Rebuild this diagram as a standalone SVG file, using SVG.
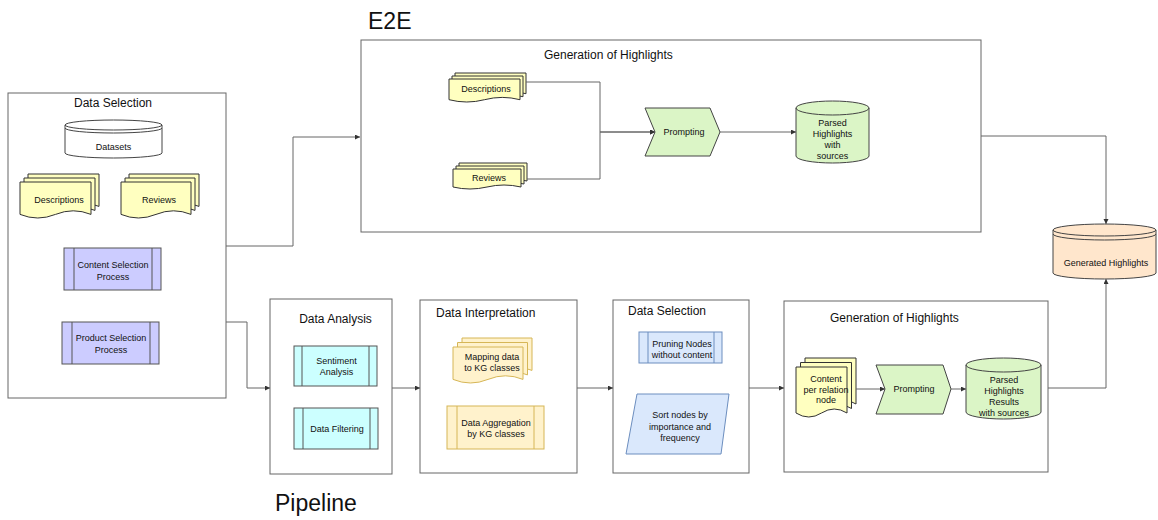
<svg xmlns="http://www.w3.org/2000/svg" width="1158" height="520" viewBox="0 0 1158 520">
  <defs>
    <marker id="arrow" markerUnits="userSpaceOnUse" markerWidth="6" markerHeight="6" refX="5" refY="2.5" orient="auto">
      <path d="M0,0 L5,2.5 L0,5 Z" fill="#333"/>
    </marker>
  </defs>
  <style>
    text { font-family: "Liberation Sans", Arial, Helvetica, sans-serif; fill: #111; }
    .big { font-size: 23px; }
    .title { font-size: 12px; }
    .lbl { font-size: 9px; text-anchor: middle; }
    .frame { fill: #fff; stroke: #666; stroke-width: 1; }
    .edge { fill: none; stroke: #666; stroke-width: 1; marker-end: url(#arrow); }
    .line { fill: none; stroke: #444; stroke-width: 1; }
    .doc { fill: #ffffc0; stroke: #333; stroke-width: 1; }
    .docO { fill: #fff2cc; stroke: #d6b656; stroke-width: 1; }
    .db { fill: #fff; stroke: #444; stroke-width: 1; }
    .green { fill: #dbf5c6; stroke: #444; stroke-width: 1; }
    .peach { fill: #ffe6cc; stroke: #444; stroke-width: 1; }
    .purple { fill: #ccccff; stroke: #555; stroke-width: 1; }
    .cyan { fill: #ccffff; stroke: #555; stroke-width: 1; }
    .orange { fill: #fff2cc; stroke: #d6b656; stroke-width: 1; }
    .blue { fill: #dae8fc; stroke: #6c8ebf; stroke-width: 1; }
    .inner { fill: none; stroke-width: 1; }
  </style>

  <!-- headings -->
  <text class="big" x="368" y="29">E2E</text>
  <text class="big" x="275" y="511">Pipeline</text>

  <!-- Data Selection (source) -->
  <g id="data-selection">
    <rect class="frame" x="8" y="93" width="218" height="305"/>
    <text class="title" x="113" y="107" text-anchor="middle">Data Selection</text>
  </g>
  <g id="datasets">
    <path class="db" d="M65,125 A48.5,5 0 0 1 162,125 V153 A48.5,5 0 0 1 65,153 Z"/>
    <path class="line" d="M65,125 A48.5,5 0 0 0 162,125 M65,128 A48.5,5 0 0 0 162,128"/>
    <text class="lbl" x="113.5" y="150">Datasets</text>
  </g>
  <g id="ds-descriptions">
    <path class="doc" d="M28,174 H99 V206.4 Q81.25,199.2 63.5,206.4 T28,206.4 Z"/>
    <path class="doc" d="M24,178 H95 V210.4 Q77.25,203.2 59.5,210.4 T24,210.4 Z"/>
    <path class="doc" d="M20,182 H91 V214.4 Q73.25,207.2 55.5,214.4 T20,214.4 Z"/>
    <text class="lbl" x="59" y="203">Descriptions</text>
  </g>
  <g id="ds-reviews">
    <path class="doc" d="M129,174 H199 V206.4 Q181.5,199.2 164,206.4 T129,206.4 Z"/>
    <path class="doc" d="M125,178 H195 V210.4 Q177.5,203.2 160,210.4 T125,210.4 Z"/>
    <path class="doc" d="M121,182 H191 V214.4 Q173.5,207.2 156,214.4 T121,214.4 Z"/>
    <text class="lbl" x="159" y="203">Reviews</text>
  </g>
  <g id="content-selection">
    <rect class="purple" x="64" y="248" width="97" height="42"/>
    <path class="inner" stroke="#555" d="M74,248 V290 M152,248 V290"/>
    <text class="lbl" x="113" y="268">Content Selection</text>
    <text class="lbl" x="113" y="280">Process</text>
  </g>
  <g id="product-selection">
    <rect class="purple" x="62" y="322" width="97" height="42"/>
    <path class="inner" stroke="#555" d="M72,322 V364 M150,322 V364"/>
    <text class="lbl" x="111" y="341">Product Selection</text>
    <text class="lbl" x="111" y="353">Process</text>
  </g>

  <!-- E2E generation -->
  <g id="e2e-generation">
    <rect class="frame" x="361" y="40" width="620" height="192"/>
    <text class="title" x="544" y="59">Generation of Highlights</text>
  </g>
  <g id="e2e-descriptions">
    <path class="doc" d="M455,73 H526 V93.7 Q508.25,89.1 490.5,93.7 T455,93.7 Z"/>
    <path class="doc" d="M452,76 H523 V96.7 Q505.25,92.1 487.5,96.7 T452,96.7 Z"/>
    <path class="doc" d="M449,79 H520 V99.7 Q502.25,95.1 484.5,99.7 T449,99.7 Z"/>
    <text class="lbl" x="486" y="92">Descriptions</text>
  </g>
  <g id="e2e-reviews">
    <path class="doc" d="M459,163 H527 V181 Q510,177 493,181 T459,181 Z"/>
    <path class="doc" d="M456,166 H524 V184 Q507,180 490,184 T456,184 Z"/>
    <path class="doc" d="M453,169 H521 V187 Q504,183 487,187 T453,187 Z"/>
    <text class="lbl" x="489" y="181">Reviews</text>
  </g>
  <g id="e2e-prompting">
    <path class="green" d="M645,108 H710 L720,132 L710,156 H645 L655,132 Z"/>
    <text class="lbl" x="684" y="135">Prompting</text>
  </g>
  <g id="e2e-parsed">
    <path class="green" d="M796,108 A36.5,7 0 0 1 869,108 V156 A36.5,7 0 0 1 796,156 Z"/>
    <path class="line" d="M796,108 A36.5,7 0 0 0 869,108"/>
    <text class="lbl" x="832.5" y="126">Parsed</text>
    <text class="lbl" x="832.5" y="137">Highlights</text>
    <text class="lbl" x="832.5" y="148">with</text>
    <text class="lbl" x="832.5" y="159">sources</text>
  </g>

  <!-- output store -->
  <g id="generated-highlights">
    <path class="peach" d="M1053,230 A51.5,6 0 0 1 1156,230 V273 A51.5,6 0 0 1 1053,273 Z"/>
    <path class="line" d="M1053,230 A51.5,6 0 0 0 1156,230 M1053,234 A51.5,6 0 0 0 1156,234"/>
    <text class="lbl" x="1106" y="266">Generated Highlights</text>
  </g>

  <!-- Pipeline stages -->
  <g id="data-analysis">
    <rect class="frame" x="270" y="299" width="122" height="175"/>
    <text class="title" x="335.5" y="323" text-anchor="middle">Data Analysis</text>
  </g>
  <g id="sentiment-analysis">
    <rect class="cyan" x="294" y="346" width="83" height="40"/>
    <path class="inner" stroke="#555" d="M302,346 V386 M369,346 V386"/>
    <text class="lbl" x="336.5" y="364">Sentiment</text>
    <text class="lbl" x="336.5" y="375">Analysis</text>
  </g>
  <g id="data-filtering">
    <rect class="cyan" x="294" y="408" width="84" height="41"/>
    <path class="inner" stroke="#555" d="M303,408 V449 M370,408 V449"/>
    <text class="lbl" x="337" y="432">Data Filtering</text>
  </g>

  <g id="data-interpretation">
    <rect class="frame" x="420" y="300" width="157" height="173"/>
    <text class="title" x="436" y="317">Data Interpretation</text>
  </g>
  <g id="mapping-data">
    <path class="docO" d="M462,338 H532 V370.4 Q514.5,363.2 497,370.4 T462,370.4 Z"/>
    <path class="docO" d="M457.5,342.5 H527.5 V374.9 Q510,367.7 492.5,374.9 T457.5,374.9 Z"/>
    <path class="docO" d="M453,347 H523 V379.4 Q505.5,372.2 488,379.4 T453,379.4 Z"/>
    <text class="lbl" x="492" y="360">Mapping data</text>
    <text class="lbl" x="492" y="371">to KG classes</text>
  </g>
  <g id="data-aggregation">
    <rect class="orange" x="447" y="406" width="97" height="43"/>
    <path class="inner" stroke="#d6b656" d="M457,406 V449 M534,406 V449"/>
    <text class="lbl" x="496" y="426">Data Aggregation</text>
    <text class="lbl" x="496" y="437">by KG classes</text>
  </g>

  <g id="pipeline-data-selection">
    <rect class="frame" x="613" y="300" width="136" height="173"/>
    <text class="title" x="628" y="315">Data Selection</text>
  </g>
  <g id="pruning-nodes">
    <rect class="blue" x="639" y="332" width="83" height="31"/>
    <path class="inner" stroke="#6c8ebf" d="M648,332 V363 M714,332 V363"/>
    <text class="lbl" x="682" y="347">Pruning Nodes</text>
    <text class="lbl" x="682" y="358">without content</text>
  </g>
  <g id="sort-nodes">
    <path class="blue" d="M637,394 H729 L721,454 H626 Z"/>
    <text class="lbl" x="680" y="418">Sort nodes by</text>
    <text class="lbl" x="680" y="430">importance and</text>
    <text class="lbl" x="680" y="441">frequency</text>
  </g>

  <g id="pipeline-generation">
    <rect class="frame" x="784" y="301" width="264" height="171"/>
    <text class="title" x="830" y="322">Generation of Highlights</text>
  </g>
  <g id="content-per-relation">
    <path class="doc" d="M805,358 H856 V404 Q843.25,396 830.5,404 T805,404 Z"/>
    <path class="doc" d="M800.5,362.5 H851.5 V408.5 Q838.75,400.5 826,408.5 T800.5,408.5 Z"/>
    <path class="doc" d="M796,367 H847 V413 Q834.25,405 821.5,413 T796,413 Z"/>
    <text class="lbl" x="826" y="382">Content</text>
    <text class="lbl" x="826" y="393">per relation</text>
    <text class="lbl" x="826" y="403">node</text>
  </g>
  <g id="pipeline-prompting">
    <path class="green" d="M876,365 H943 L951,389 L943,414 H876 L885,389 Z"/>
    <text class="lbl" x="914" y="392">Prompting</text>
  </g>
  <g id="pipeline-parsed">
    <path class="green" d="M966,365 A37.5,7 0 0 1 1041,365 V412 A37.5,7 0 0 1 966,412 Z"/>
    <path class="line" d="M966,365 A37.5,7 0 0 0 1041,365"/>
    <text class="lbl" x="1004" y="383">Parsed</text>
    <text class="lbl" x="1004" y="394">Highlights</text>
    <text class="lbl" x="1004" y="405">Results</text>
    <text class="lbl" x="1004" y="416">with sources</text>
  </g>

  <!-- connectors, drawn above the containers -->
  <g id="connectors">
    <path class="edge" d="M226,246 H293 V137 H360"/>
    <path class="edge" d="M226,322 H247 V388 H270"/>
    <path class="edge" d="M526,82 H600 V132 H655"/>
    <path class="edge" d="M527,179 H600 V132 H655"/>
    <path class="edge" d="M720,132 H796"/>
    <path class="edge" d="M981,136 H1106 V224"/>
    <path class="edge" d="M392,388 H420"/>
    <path class="edge" d="M577,388 H613"/>
    <path class="edge" d="M749,388 H784"/>
    <path class="edge" d="M856,389 H885"/>
    <path class="edge" d="M951,389 H966"/>
    <path class="edge" d="M1048,388 H1106 V279"/>
  </g>
</svg>
